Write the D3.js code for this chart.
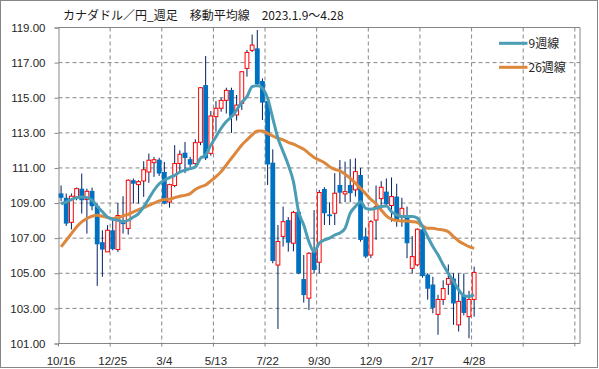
<!DOCTYPE html>
<html><head><meta charset="utf-8">
<script src="https://cdn.jsdelivr.net/npm/d3@7"></script>
<style>body{margin:0;background:#fff}svg{display:block}</style>
</head><body>
<svg id="c" width="599" height="369"></svg>
<script>
const tickLabels = ["10/16","12/25","3/4","5/13","7/22","9/30","12/9","2/17","4/28"];
const open  = [109.55,109.3,107.9,109.35,109.82,109.2,109.69,108.82,106.77,106.22,107.45,106.35,108.0,107.55,110.3,110.05,110.26,110.77,111.3,111.47,110.77,109.06,110.0,111.25,111.87,111.5,111.25,112.46,115.72,111.83,113.92,114.4,114.85,115.44,114.02,114.68,116.67,117.7,117.81,115.95,114.81,111.3,105.47,107.1,108.03,106.71,108.5,104.67,103.58,106.23,105.63,109.8,108.35,108.42,110.03,109.52,110.03,109.75,110.6,107.1,106.04,108.03,109.25,109.65,108.86,109.37,108.19,108.32,105.28,105.48,107.5,104.93,104.36,102.66,103.51,104.37,104.7,102.06,103.72,102.53,103.51];
const high  = [110.0,109.54,109.54,109.88,110.68,109.82,109.88,108.97,107.45,107.74,108.02,109.0,109.39,110.35,110.4,110.3,111.38,111.82,111.63,111.58,111.34,110.1,112.3,112.0,112.48,111.63,112.63,115.6,117.38,114.24,114.81,115.0,115.57,115.57,115.16,116.52,117.72,118.6,118.86,116.1,114.95,112.06,107.75,108.8,108.2,108.55,108.6,106.04,106.2,108.6,109.75,109.9,109.04,110.7,111.45,111.36,111.5,111.55,111.0,107.6,108.03,110.0,110.25,110.4,110.46,110.1,109.3,108.8,107.12,107.56,107.75,105.0,104.8,103.77,104.6,105.5,105.0,104.99,104.99,104.0,105.38];
const low   = [109.1,107.7,107.5,109.16,108.4,107.26,108.59,104.28,104.8,106.22,106.31,106.22,107.26,107.2,108.97,108.97,109.35,110.15,110.49,110.55,108.93,108.74,109.9,110.7,110.7,111.05,111.1,112.3,111.45,111.7,113.07,114.2,114.1,113.0,113.7,114.3,116.2,117.6,115.6,113.73,110.03,105.57,101.83,106.52,106.23,106.25,104.95,103.33,102.9,105.0,105.0,107.75,107.75,107.75,108.99,109.05,109.05,109.37,106.8,105.86,105.86,106.9,108.52,108.8,107.94,107.65,107.65,105.86,104.99,105.4,104.75,103.5,102.72,101.5,103.2,103.77,102.06,101.68,102.6,101.3,102.53];
const close = [109.3,107.83,109.39,109.82,109.16,109.67,108.82,106.65,106.35,107.45,106.37,108.29,107.8,110.3,110.1,110.22,110.9,111.44,111.47,110.68,108.97,110.05,111.25,111.78,111.57,111.19,112.44,115.57,111.55,113.96,114.4,114.85,115.42,113.92,114.58,116.48,117.58,118.0,115.78,114.72,111.2,105.7,106.81,107.94,106.74,108.47,104.99,103.76,106.14,105.19,109.6,108.42,108.25,109.56,109.59,109.65,109.56,110.79,106.9,105.95,107.94,108.79,109.9,108.93,109.37,108.04,108.7,106.71,105.95,107.51,104.84,104.12,103.03,103.51,104.13,104.7,103.28,103.4,102.74,103.51,105.05];
const ma9   = [108.95,109.06,109.2,109.31,109.35,109.31,109.16,108.82,108.5,108.2,108.08,108.02,107.93,108.02,108.2,108.4,108.78,109.25,109.73,110.1,110.3,110.45,110.58,110.77,110.87,110.96,111.06,111.55,111.74,112.3,112.78,113.26,113.64,113.92,114.3,114.74,115.06,115.63,115.69,115.54,114.97,113.83,112.69,111.93,111.17,110.22,108.51,107.75,106.8,106.23,106.71,106.9,107.0,107.18,107.3,107.57,108.42,108.8,109.08,108.7,108.65,108.7,108.8,108.83,108.5,108.33,108.23,108.23,108.23,108.14,107.66,107.09,106.52,106.05,105.48,105.0,104.53,104.06,103.72,103.68,103.77];
const ma26  = [106.5,106.88,107.26,107.64,107.93,108.12,108.25,108.3,108.25,108.17,108.12,108.17,108.27,108.36,108.5,108.63,108.74,108.87,109.0,109.12,109.2,109.22,109.31,109.39,109.44,109.54,109.77,109.92,110.03,110.26,110.5,110.79,111.17,111.55,111.93,112.31,112.6,112.88,113.11,113.11,112.97,112.82,112.69,112.6,112.46,112.35,112.21,112.06,111.83,111.59,111.45,111.3,111.07,110.92,110.84,110.64,110.41,110.13,109.84,109.52,109.21,108.95,108.61,108.27,108.08,108.0,107.98,107.98,107.94,107.89,107.7,107.56,107.56,107.5,107.47,107.37,107.09,106.84,106.67,106.52,106.42];
const yTicks = [101,103,105,107,109,111,113,115,117,119];
const seriesNames = ["9週線","26週線"];

const svg = d3.select("#c");
const L = 58.5, R = 580, T = 27.5, B = 343.5;
const x = d3.scaleLinear().domain([0,101]).range([L,R]);
const y = d3.scaleLinear().domain([101,119]).range([B,T]);
const grey = "#868686";

// outer frame
svg.append("rect").attr("x",0.5).attr("y",0.5).attr("width",597).attr("height",367)
  .attr("fill","#fff").attr("stroke",grey);

// grid
const g = svg.append("g");
yTicks.filter(v=>v>101 && v<119).forEach(v=>{
  g.append("line").attr("x1",L).attr("x2",R).attr("y1",y(v)).attr("y2",y(v))
   .attr("stroke",grey).attr("stroke-dasharray","4,3");
});
d3.range(10,101,10).forEach(i=>{
  g.append("line").attr("x1",x(i)).attr("x2",x(i)).attr("y1",T).attr("y2",B)
   .attr("stroke",grey).attr("stroke-dasharray","4,3");
});
// plot border top/right
svg.append("line").attr("x1",L).attr("x2",R).attr("y1",T).attr("y2",T).attr("stroke",grey);
svg.append("line").attr("x1",R).attr("x2",R).attr("y1",T).attr("y2",B).attr("stroke",grey);

// axes
const yAxis = d3.axisLeft(y).tickValues(yTicks).tickFormat(d3.format(".2f")).tickSize(4).tickPadding(9);
const ya = svg.append("g").attr("transform",`translate(${L},0)`).call(yAxis);
ya.select(".domain").attr("stroke",grey);
ya.selectAll(".tick line").attr("stroke",grey);
ya.selectAll("text").attr("fill","#262626").attr("font-family","Liberation Sans, Arial, sans-serif").attr("font-size",11.5);

const xa = svg.append("g").attr("transform",`translate(0,${B})`);
xa.append("line").attr("x1",L).attr("x2",R).attr("stroke",grey);
d3.range(0,101,10).forEach(i=>{
  xa.append("line").attr("x1",x(i)).attr("x2",x(i)).attr("y1",0).attr("y2",3).attr("stroke",grey);
});
tickLabels.forEach((t,k)=>{
  xa.append("text").attr("x",x(k*10+0.5)).attr("y",21.5).attr("text-anchor","middle")
    .attr("fill","#262626").attr("font-family","Liberation Sans, Arial, sans-serif").attr("font-size",11.5).text(t);
});

// candles
const cw = 3.8;
const cg = svg.append("g");
open.forEach((o,i)=>{
  const c = close[i], cx = x(i+0.5);
  cg.append("line").attr("x1",cx).attr("x2",cx).attr("y1",y(high[i])).attr("y2",y(low[i]))
    .attr("stroke","#002060").attr("stroke-width",1);
  const up = c >= o;
  const top = y(Math.max(o,c)), bot = y(Math.min(o,c));
  if (up) {
    cg.append("rect").attr("x",cx-cw/2).attr("y",top).attr("width",cw).attr("height",Math.max(bot-top,1))
      .attr("fill","#fff").attr("stroke","#ff0000").attr("stroke-width",1);
  } else {
    cg.append("rect").attr("x",cx-cw/2-0.5).attr("y",top).attr("width",cw+1).attr("height",Math.max(bot-top,1.5))
      .attr("fill","#0070c0");
  }
});

// moving averages
const line = d3.line().x((d,i)=>x(i+0.5)).y(d=>y(d)).curve(d3.curveMonotoneX);
const colors = ["#4a9db5","#dd873c"];
svg.append("path").datum(ma26).attr("d",line).attr("fill","none").attr("stroke",colors[1]).attr("stroke-width",3).attr("stroke-linejoin","round");
svg.append("path").datum(ma9).attr("d",line).attr("fill","none").attr("stroke",colors[0]).attr("stroke-width",3).attr("stroke-linejoin","round");

// legend
[[43.3,0],[67.3,1]].forEach(([ly,k])=>{
  svg.append("line").attr("x1",499).attr("x2",527.5).attr("y1",ly).attr("y2",ly).attr("stroke",colors[k]).attr("stroke-width",3);
  svg.append("text").attr("x",528.5).attr("y",ly+4.5).attr("font-family","Noto Sans CJK JP, sans-serif")
    .attr("font-size",12).attr("fill","#262626").text(seriesNames[k]);
});

// title
svg.append("text").attr("x",63).attr("y",19.5).attr("font-family","Noto Sans CJK JP, sans-serif")
  .attr("font-size",12).attr("fill","#1a1a1a").text("カナダドル／円_週足　移動平均線　2023.1.9～4.28");
</script>
</body></html>
